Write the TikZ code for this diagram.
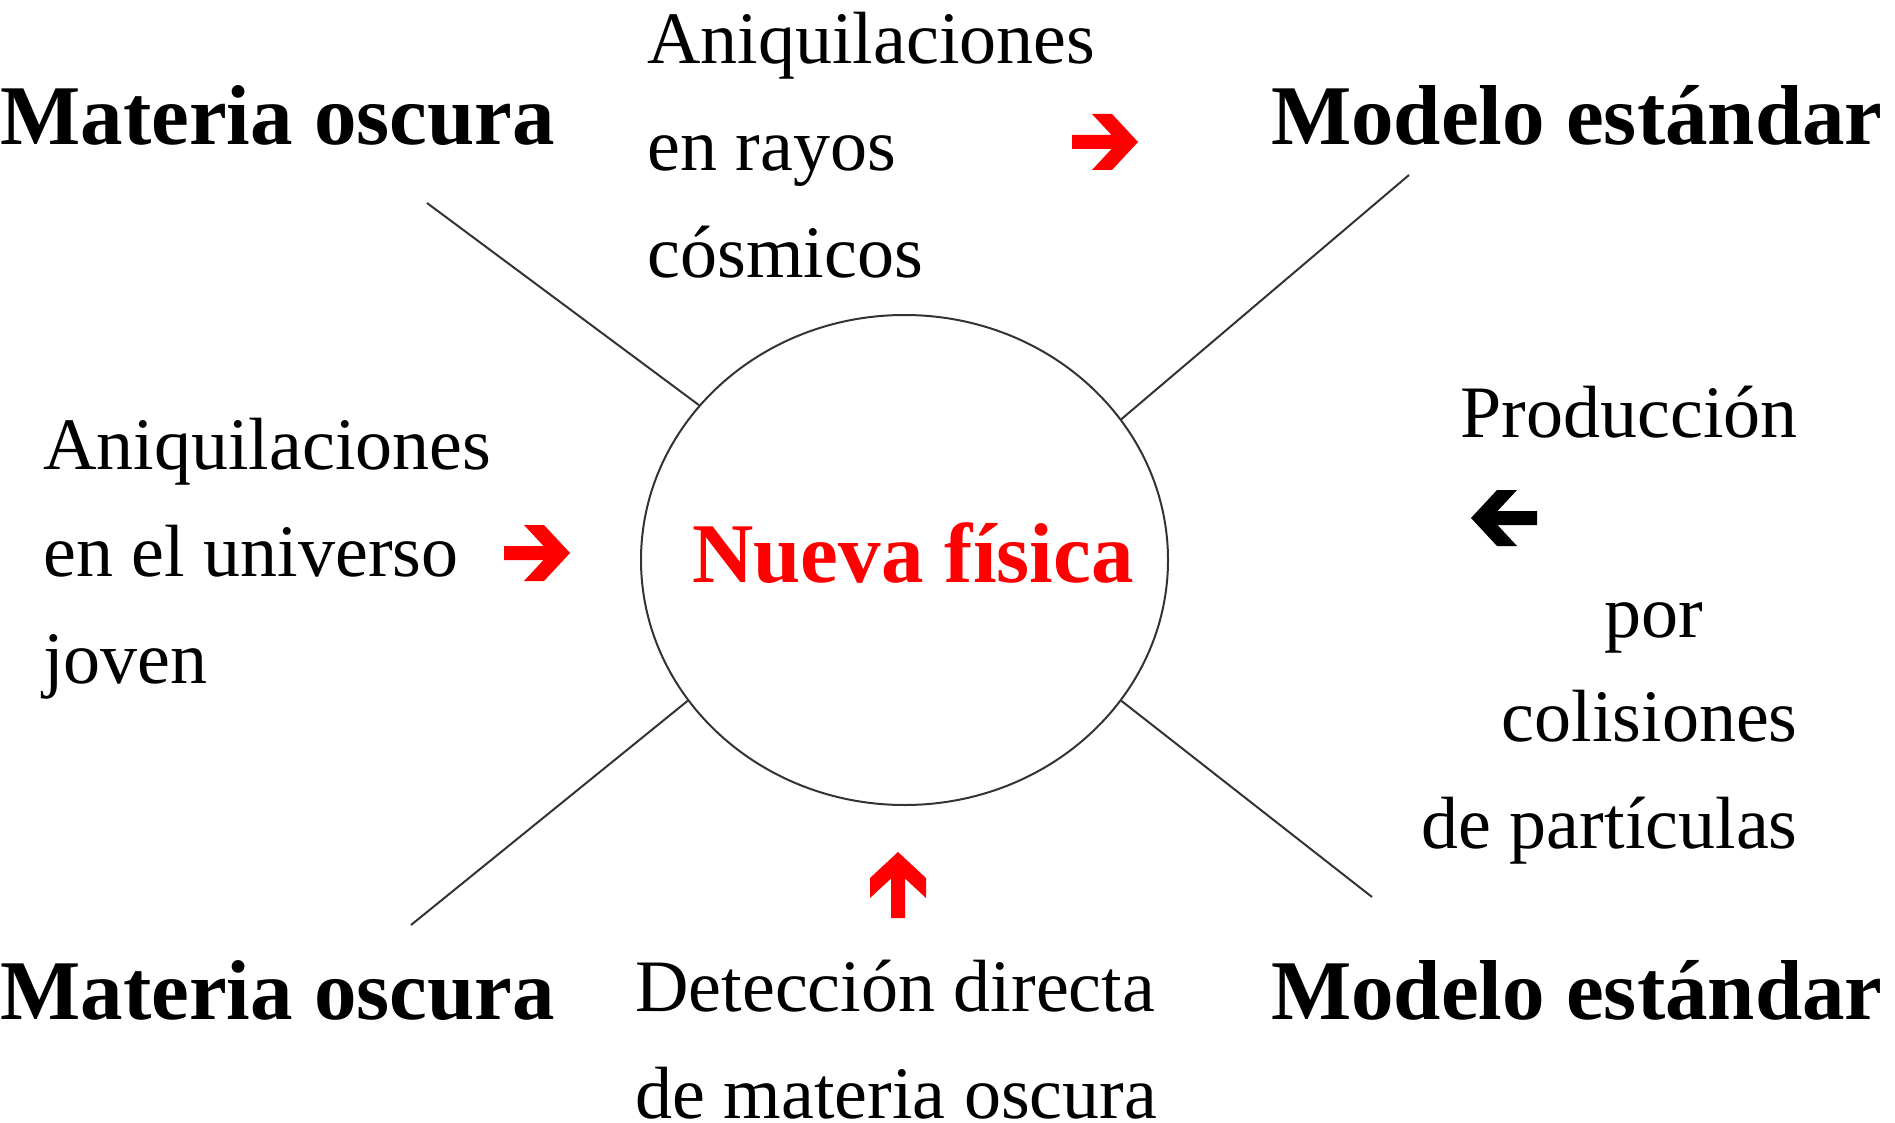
\documentclass[tikz,border=0pt]{standalone}
\usepackage{fontspec}
\setmainfont{Liberation Serif}
\usepackage{xcolor}
\usetikzlibrary{shapes.geometric, positioning}

\tikzset{
  titulo/.style={font=\fontsize{42.5}{50}\bfseries\selectfont, inner sep=0pt},
  texto/.style={font=\fontsize{37}{53.5}\selectfont, inner sep=0pt, align=left},
  linea/.style={draw=black!80, line width=1pt},
  fatarrow/.pic={
    \fill (0,0) -- (-26,28) -- (-46,28) -- (-26.5,7) -- (-66,7)
      -- (-66,-7) -- (-26.5,-7) -- (-46,-28) -- (-26,-28) -- cycle;
  }
}

\begin{document}
\begin{tikzpicture}[x=0.5pt, y=-0.5pt]
      \useasboundingbox (0,0) rectangle (1895,1123);

      % centro
      \node[ellipse, linea, minimum width=263.5pt, minimum height=245pt,
            inner sep=0pt] (nf) at (904.5,560) {};
      \node[titulo, text=red, anchor=base] (nft) at (913,582) {Nueva física};

      % esquinas
      \node[titulo, anchor=base west] (mo1) at (0,145) {Materia oscura};
      \node[titulo, anchor=base east] (me1) at (1883,145) {Modelo estándar};
      \node[titulo, anchor=base west] (mo2) at (0,1019) {Materia oscura};
      \node[titulo, anchor=base east] (me2) at (1883,1019) {Modelo estándar};

      \coordinate (c1) at (427,203);
      \coordinate (c2) at (1409,175);
      \coordinate (c3) at (411,925);
      \coordinate (c4) at (1372,897);
      \draw[linea] (c1) -- (nf.143.9);
      \draw[linea] (c2) -- (nf.33.1);
      \draw[linea] (c3) -- (nf.213.1);
      \draw[linea] (c4) -- (nf.327.3);

      % procesos (base = ultima linea)
      \node[texto, anchor=base west] (rc) at (647,278) {Aniquilaciones\\en rayos\\cósmicos};
      \node[texto, anchor=base west] (uj) at (43,683) {Aniquilaciones\\en el universo\\joven};
      \node[texto, anchor=base west] (dd) at (635,1118) {Detección directa\\de materia oscura};
      \node[texto, anchor=base east] (pr) at (1798,437) {Producción};
      \node[texto, anchor=base east] (po) at (1704,637) {por};
      \node[texto, anchor=base east, align=right] (cp) at (1798,848) {colisiones\\de partículas};

      \pic[red] at (1138,142) {fatarrow};
      \pic[red] at (570,553) {fatarrow};
      \pic[black, rotate=180] at (1471,518) {fatarrow};
      \pic[red, rotate=90] at (898,852) {fatarrow};
    \end{tikzpicture}
\end{document}
